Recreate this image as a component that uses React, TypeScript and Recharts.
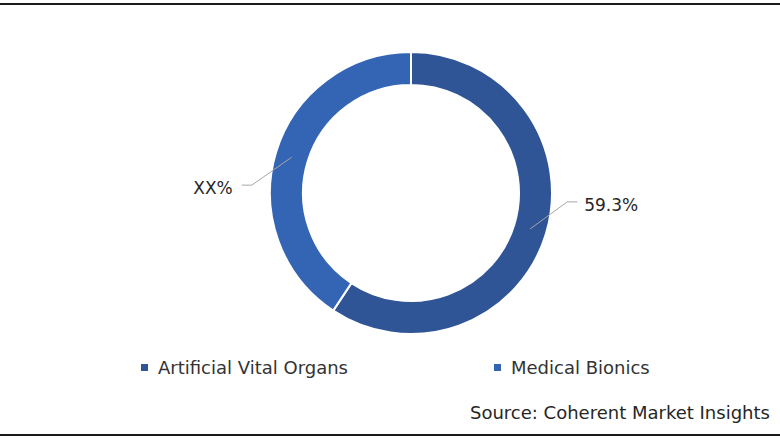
import { PieChart, Pie, Cell, Legend } from 'recharts';

const segments = ['Artificial Vital Organs', 'Medical Bionics'];
const shares = [59.3, 40.7];
const shareLabels = ['59.3%', 'XX%'];
const segmentColors = ['#2F5597', '#3465B4'];

const data = segments.map((name, i) => ({ name, value: shares[i] }));

const FONT = '"DejaVu Sans", sans-serif';
const RADIAN = Math.PI / 180;

function renderLabel(props: any) {
  const { cx, cy, midAngle, innerRadius, outerRadius, index } = props;
  const r = (innerRadius + outerRadius) / 2;
  const cos = Math.cos(-midAngle * RADIAN);
  const sin = Math.sin(-midAngle * RADIAN);
  const sx = cx + r * cos;
  const sy = cy + r * sin;
  const right = cos >= 0;
  const ex = sx + (right ? 37 : -40);
  const ey = sy + (right ? -27 : 28);
  const hx = ex + (right ? 10 : -10);
  return (
    <g>
      <polyline
        points={`${sx},${sy} ${ex},${ey} ${hx},${ey}`}
        stroke="#A6A6A6"
        strokeWidth={1}
        fill="none"
      />
      <text
        x={hx + (right ? 7 : -9)}
        y={ey + 3}
        textAnchor={right ? 'start' : 'end'}
        dominantBaseline="central"
        fontFamily={FONT}
        fontSize={17}
        fill="#262626"
      >
        {shareLabels[index]}
      </text>
    </g>
  );
}

// legend items sit at fixed x positions like the original export
const legendX = [141, 494];

function renderLegend(props: any) {
  const { payload } = props;
  return (
    <div style={{ position: 'relative', height: 24 }}>
      {(payload || []).map((entry: any, i: number) => (
        <div
          key={entry.value}
          style={{
            position: 'absolute',
            left: legendX[i],
            top: 0,
            display: 'flex',
            alignItems: 'center',
            whiteSpace: 'nowrap',
          }}
        >
          <span
            style={{
              width: 7,
              height: 7,
              background: entry.color,
              display: 'inline-block',
              marginRight: 10,
            }}
          />
          <span style={{ fontFamily: FONT, fontSize: 18, color: '#333' }}>{entry.value}</span>
        </div>
      ))}
    </div>
  );
}

export default function App() {
  return (
    <div
      style={{
        position: 'absolute',
        left: 0,
        top: 0,
        width: 780,
        height: 440,
        background: '#fff',
        overflow: 'hidden',
      }}
    >
      <div style={{ position: 'absolute', left: 0, top: 3, width: 780, height: 2, background: '#1a1a1a' }} />
      <div style={{ position: 'absolute', left: 0, top: 434, width: 780, height: 2, background: '#1a1a1a' }} />
      <PieChart width={780} height={440} margin={{ top: 0, right: 0, bottom: 0, left: 0 }}>
        <Pie
          data={data}
          dataKey="value"
          nameKey="name"
          cx={411}
          cy={193}
          innerRadius={108}
          outerRadius={141}
          startAngle={90}
          endAngle={-270}
          stroke="#fff"
          strokeWidth={2}
          label={renderLabel}
          labelLine={false}
          isAnimationActive={false}
        >
          {data.map((entry, i) => (
            <Cell key={entry.name} fill={segmentColors[i]} />
          ))}
        </Pie>
        <Legend
          content={renderLegend}
          wrapperStyle={{ position: 'absolute', left: 0, top: 357, width: 780 }}
        />
      </PieChart>
      <div
        style={{
          position: 'absolute',
          left: 470,
          top: 402,
          fontFamily: FONT,
          fontSize: 18,
          color: '#262626',
          whiteSpace: 'nowrap',
        }}
      >
        Source: Coherent Market Insights
      </div>
    </div>
  );
}
